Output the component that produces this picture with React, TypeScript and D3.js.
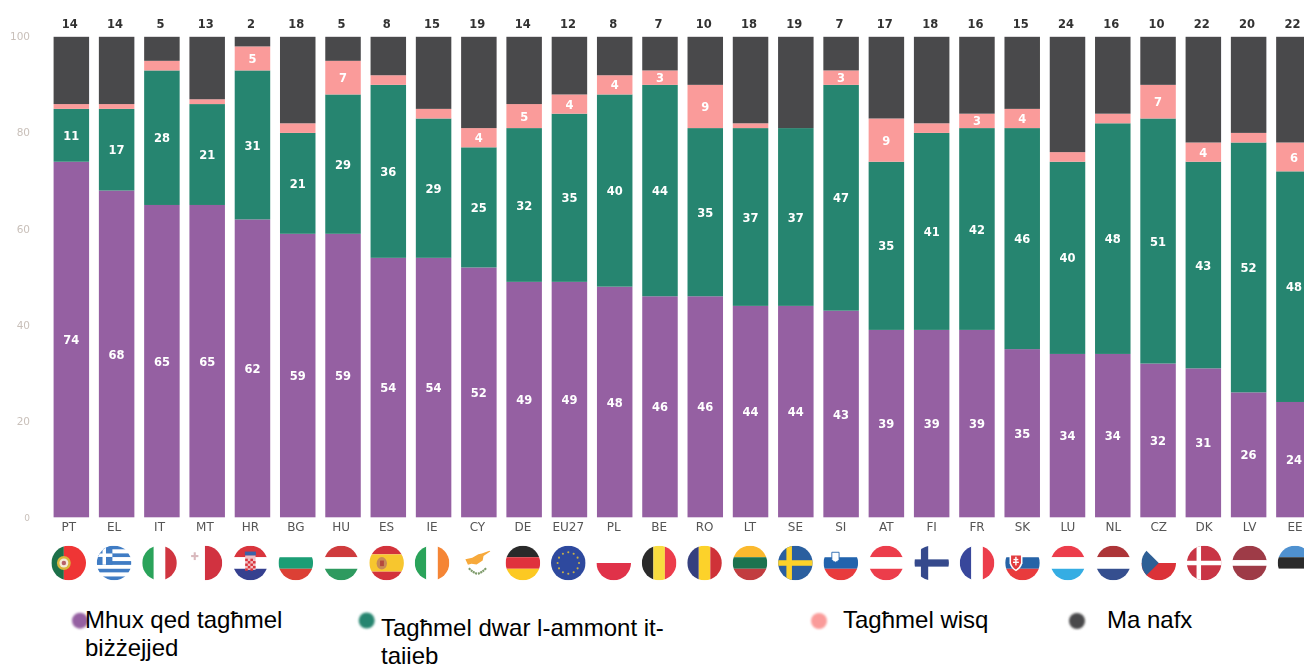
import React from "react";
import * as d3 from "d3";

const categories = ["PT","EL","IT","MT","HR","BG","HU","ES","IE","CY","DE","EU27","PL","BE","RO","LT","SE","SI","AT","FI","FR","SK","LU","NL","CZ","DK","LV","EE"];
const notEnough = [74,68,65,65,62,59,59,54,54,52,49,49,48,46,46,44,44,43,39,39,39,35,34,34,32,31,26,24];
const aboutRight = [11,17,28,21,31,21,29,36,29,25,32,35,40,44,35,37,37,47,35,41,42,46,40,48,51,43,52,48];
const tooMuch = [1,1,2,1,5,2,7,2,2,4,5,4,4,3,9,1,0,3,9,2,3,4,2,2,7,4,2,6];
const dontKnow = [14,14,5,13,2,18,5,8,15,19,14,12,8,7,10,18,19,7,17,18,16,15,24,16,10,22,20,22];
const yTicks = [0,20,40,60,80,100];
const seriesKeys = ["notEnough","aboutRight","tooMuch","dontKnow"];
const seriesColors = ["#9560a2","#26856f","#fa9b9a","#4a494b"];

const W = 1304, H = 664;
const rows = categories.map((c, i) => ({ c, notEnough: notEnough[i], aboutRight: aboutRight[i], tooMuch: tooMuch[i], dontKnow: dontKnow[i] }));
const stacked = d3.stack<any>().keys(seriesKeys)(rows);
const y = d3.scaleLinear().domain([0, 100]).range([517.3, 36.8]);
const x = d3.scaleBand().domain(categories).range([53.6 - 4.9, 53.6 - 4.9 + 45.28 * 28]).paddingInner(0.216).paddingOuter(0.108);
const lx = d3.scalePoint().domain(categories).range([68.7, 1295]);

type Stripe = [string, number];
const hs = (s: Stripe[]) => { let a = -1; return s.map(([col, f], i) => { const t = a; a += f * 2; return <rect key={i} x={-1} y={t} width={2} height={f * 2} fill={col} />; }); };
const vs = (s: Stripe[]) => { let a = -1; return s.map(([col, f], i) => { const t = a; a += f * 2; return <rect key={i} y={-1} x={t} height={2} width={f * 2} fill={col} />; }); };
const t3 = 1 / 3;
const R = (x0: number, y0: number, w: number, h: number, f: string) => <rect x={x0} y={y0} width={w} height={h} fill={f} />;

function flagBody(c: string) {
  switch (c) {
    case "PT": return <>{vs([["#1f6f4a", .36], ["#ef3434", .64]])}<circle cx={-.28} cy={0} r={.4} fill="#d9b63c" /><circle cx={-.28} cy={0} r={.26} fill="#f4e9d8" /><circle cx={-.28} cy={0} r={.13} fill="#b8606a" /></>;
    case "EL": return <>{hs(d3.range(9).map(i => [i % 2 ? "#fff" : "#3f7cc4", 1 / 9] as Stripe))}{R(-1, -1, .9, 1.1, "#3f7cc4")}{R(-.67, -1, .2, 1.1, "#fff")}{R(-1, -.55, .9, .2, "#fff")}</>;
    case "IT": return vs([["#2aa35a", t3], ["#fff", t3], ["#d0343f", t3]]);
    case "MT": return <>{vs([["#fff", .5], ["#d1333f", .5]])}{R(-.65, -.62, .12, .45, "#d9b9bd")}{R(-.8, -.46, .42, .12, "#d9b9bd")}</>;
    case "HR": return <>{hs([["#d9343c", t3], ["#fff", t3], ["#35418f", t3]])}{R(-.3, -.45, .6, .85, "#f0c0c4")}{d3.range(4).flatMap(a => d3.range(5).filter(b => (a + b) % 2 === 0).map(b => <rect key={a + "-" + b} x={-.3 + a * .15} y={-.25 + b * .14} width={.15} height={.14} fill="#d9343c" />))}{R(-.32, -.66, .64, .22, "#3a62a8")}</>;
    case "BG": return hs([["#fff", t3], ["#1f9e74", t3], ["#dc4035", t3]]);
    case "HU": return hs([["#cf3a3c", t3], ["#fff", t3], ["#2f9a5e", t3]]);
    case "ES": return <>{hs([["#d3333a", .25], ["#f7c62f", .5], ["#d3333a", .25]])}<ellipse cx={-.28} cy={.02} rx={.3} ry={.36} fill="#c98a55" /><rect x={-.38} y={-.14} width={.22} height={.32} fill="#b5483c" /></>;
    case "IE": return vs([["#2aa35a", t3], ["#fff", t3], ["#f58535", t3]]);
    case "CY": return <>{R(-1, -1, 2, 2, "#fff")}<path d="M-.7,-.22 L-.3,-.3 L.05,-.5 L.25,-.55 L.9,-.78 L.35,-.4 L.3,-.15 L-.05,.08 L-.35,.05 L-.55,.1 Z" fill="#f7a93b" /><path d="M-.5,.3 Q-.2,.6 0,.62 M.5,.3 Q.2,.6 0,.62" fill="none" stroke="#7f9c6c" strokeWidth={.12} strokeDasharray=".12 .03" /></>;
    case "DE": return hs([["#2b2b2b", t3], ["#e0333c", t3], ["#fcc921", t3]]);
    case "EU": return <>{R(-1, -1, 2, 2, "#2f4a9e")}{d3.range(12).map(i => <circle key={i} cx={.62 * Math.cos(i * Math.PI / 6)} cy={.62 * Math.sin(i * Math.PI / 6)} r={.06} fill="#c9b04a" />)}</>;
    case "PL": return hs([["#fff", .5], ["#e0334a", .5]]);
    case "BE": return vs([["#2b2b2b", t3], ["#f8dc3f", t3], ["#ec3c4b", t3]]);
    case "RO": return vs([["#36407f", t3], ["#fcd22c", t3], ["#cf3237", t3]]);
    case "LT": return hs([["#fbb92e", t3], ["#1f7350", t3], ["#c23c3f", t3]]);
    case "SE": return <>{R(-1, -1, 2, 2, "#2a5f9f")}{R(-.52, -1, .32, 2, "#fcd22c")}{R(-1, -.16, 2, .32, "#fcd22c")}</>;
    case "SI": return <>{hs([["#fff", t3], ["#2063ad", t3], ["#e83a3e", t3]])}<path d="M-.52,-.62 L-.1,-.62 L-.1,-.2 Q-.31,.1 -.52,-.2 Z" fill="#fff" stroke="#2063ad" strokeWidth={.05} /></>;
    case "AT": return hs([["#ec3c4b", t3], ["#fff", t3], ["#ec3c4b", t3]]);
    case "FI": return <>{R(-1, -1, 2, 2, "#fff")}{R(-.62, -1, .42, 2, "#354a8c")}{R(-1, -.21, 2, .42, "#354a8c")}</>;
    case "FR": return vs([["#37469b", t3], ["#fff", t3], ["#ec3c4b", t3]]);
    case "SK": return <>{hs([["#fff", t3], ["#2763a7", t3], ["#e93a3e", t3]])}<path d="M-.75,-.52 L0,-.52 L0,.02 Q-.1,.35 -.38,.48 Q-.65,.35 -.75,.02 Z" fill="#fff" /><path d="M-.66,-.44 L-.09,-.44 L-.09,0 Q-.18,.27 -.38,.38 Q-.58,.27 -.66,0 Z" fill="#e23a3e" />{R(-.42, -.36, .08, .5, "#fff")}{R(-.52, -.24, .28, .08, "#fff")}{R(-.55, -.08, .34, .08, "#fff")}</>;
    case "LU": return hs([["#ec3c4b", t3], ["#fff", t3], ["#36ade3", t3]]);
    case "NL": return hs([["#ad3439", t3], ["#fff", t3], ["#36508f", t3]]);
    case "CZ": return <>{hs([["#fff", .5], ["#db3337", .5]])}<path d="M-1,-1 L0,0 L-1,1 Z" fill="#2f5f95" /></>;
    case "DK": return <>{R(-1, -1, 2, 2, "#c93444")}{R(-.44, -1, .26, 2, "#fff")}{R(-1, -.13, 2, .26, "#fff")}</>;
    case "LV": return hs([["#9e3a46", .42], ["#fff", .16], ["#9e3a46", .42]]);
    case "EE": return hs([["#4f91d0", t3], ["#2a2a2a", t3], ["#fff", t3]]);
    default: return null;
  }
}
const flagCode = (c: string) => (c === "EU27" ? "EU" : c);

const legendItems = [
  { color: seriesColors[0], dot: [80, 620.7], lines: ["Mhux qed tagħmel", "biżżejjed"], tx: 85, ty: 628 },
  { color: seriesColors[1], dot: [366.7, 620.5], lines: ["Tagħmel dwar l-ammont it-", "tajjeb"], tx: 381, ty: 636 },
  { color: seriesColors[2], dot: [819, 621], lines: ["Tagħmel wisq"], tx: 843, ty: 628 },
  { color: seriesColors[3], dot: [1077, 621], lines: ["Ma nafx"], tx: 1107, ty: 628 },
];
const labelFont = "'DejaVu Sans', sans-serif";

export default function App() {
  const flagR = 17.3;
  return (
    <svg width={W} height={H} viewBox={`0 0 ${W} ${H}`} style={{ position: "fixed", left: 0, top: 0, background: "#fff" }}>
      <defs>
        <filter id="soft" x="-2%" y="-2%" width="104%" height="104%"><feGaussianBlur stdDeviation="0.6" /></filter>
        <filter id="softer" x="-20%" y="-20%" width="140%" height="140%"><feGaussianBlur stdDeviation="0.9" /></filter>
        <clipPath id="disc"><circle r={1} /></clipPath>
      </defs>
      <g filter="url(#soft)">
        {yTicks.map(t => (
          <text key={t} x={30} y={y(t) + 3.5} textAnchor="end" fontFamily={labelFont} fontSize={t === 0 ? 9 : 10.5} fill="#c9c0ba">{t}</text>
        ))}
        {stacked.map((s, si) => (
          <g key={s.key} fill={seriesColors[si]}>
            {s.map((d, i) => d[1] > d[0] ? (
              <rect key={i} x={x(categories[i])} width={x.bandwidth()} y={y(d[1])} height={y(d[0]) - y(d[1])} />
            ) : null)}
          </g>
        ))}
        {stacked.slice(0, 3).map((s) => s.map((d, i) => d[1] - d[0] >= 3 ? (
          <text key={s.key + i} x={x(categories[i])! + x.bandwidth() / 2} y={y((d[0] + d[1]) / 2) + 4.6} textAnchor="middle" fontFamily={labelFont} fontWeight={700} fontSize={11.5} fill="#fff">{d[1] - d[0]}</text>
        ) : null))}
        {rows.map((r, i) => (
          <text key={r.c} x={x(r.c)! + x.bandwidth() / 2 - 1.5} y={28} textAnchor="middle" fontFamily={labelFont} fontWeight={700} fontSize={11.5} fill="#333">{dontKnow[i]}</text>
        ))}
        {categories.map(c => (
          <text key={c} x={lx(c)} y={531} textAnchor="middle" fontFamily={labelFont} fontSize={12} fill="#555">{c}</text>
        ))}
      </g>
      <g filter="url(#soft)">
        {categories.map(c => (
          <g key={c} transform={`translate(${lx(c)},563) scale(${flagR})`}>
            <g clipPath="url(#disc)">{flagBody(flagCode(c))}</g>
          </g>
        ))}
      </g>
      <g filter="url(#softer)">
        {legendItems.map((l, i) => <circle key={i} cx={l.dot[0]} cy={l.dot[1]} r={8} fill={l.color} />)}
      </g>
      {legendItems.map((l, i) => (
        <text key={i} fontFamily="'Liberation Sans', Arial, sans-serif" fontSize={24} fill="#000">
          {l.lines.map((t, j) => <tspan key={j} x={l.tx} y={l.ty + j * 27.7}>{t}</tspan>)}
        </text>
      ))}
    </svg>
  );
}
